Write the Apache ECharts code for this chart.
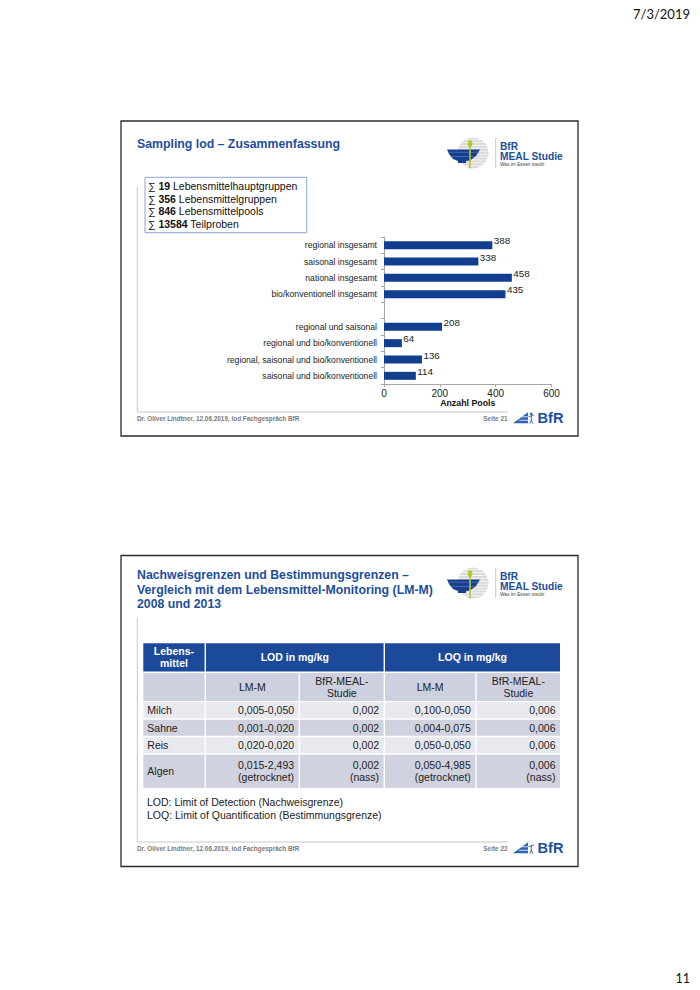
<!DOCTYPE html>
<html><head><meta charset="utf-8">
<script src="https://cdn.jsdelivr.net/npm/echarts@6/dist/echarts.min.js"></script>
<style>html,body{margin:0;padding:0;background:#fff}#c{width:700px;height:990px}</style>
</head><body><div id="c"></div>
<script>
// ---------- data ----------
const categories = ['regional insgesamt','saisonal insgesamt','national insgesamt','bio/konventionell insgesamt','','regional und saisonal','regional und bio/konventionell','regional, saisonal und bio/konventionell','saisonal und bio/konventionell'];
const poolCounts = [388,338,458,435,null,208,64,136,114];
const xTickMin = 0, xTickMax = 600, xTickStep = 200;
const xAxisName = 'Anzahl Pools';

const summaryNumbers = ['19','356','846','13584'];
const summaryLabels = ['Lebensmittelhauptgruppen','Lebensmittelgruppen','Lebensmittelpools','Teilproben'];

const slide1Title = ['Sampling lod – Zusammenfassung'];
const slide2Title = ['Nachweisgrenzen und Bestimmungsgrenzen –','Vergleich mit dem Lebensmittel-Monitoring (LM-M)','2008 und 2013'];
const footerText = 'Dr. Oliver Lindtner, 12.06.2019, lod Fachgespräch BfR';
const pageLabels = ['Seite 21','Seite 22'];
const printDate = '7/3/2019';
const printPage = '11';

const tableHeader = ['Lebens-\nmittel','LOD in mg/kg','LOQ in mg/kg'];
const tableSubHeader = ['','LM-M','BfR-MEAL-\nStudie','LM-M','BfR-MEAL-\nStudie'];
const foods = ['Milch','Sahne','Reis','Algen'];
const lodLMM = ['0,005-0,050','0,001-0,020','0,020-0,020','0,015-2,493\n(getrocknet)'];
const lodMEAL = ['0,002','0,002','0,002','0,002\n(nass)'];
const loqLMM = ['0,100-0,050','0,004-0,075','0,050-0,050','0,050-4,985\n(getrocknet)'];
const loqMEAL = ['0,006','0,006','0,006','0,006\n(nass)'];
const notes = ['LOD: Limit of Detection (Nachweisgrenze)','LOQ: Limit of Quantification (Bestimmungsgrenze)'];

// ---------- styles ----------
const FF = '"Liberation Sans", Arial, sans-serif';
const BLUE = '#1d4e9e';
const BAR = '#113e8f';

function T(x, y, text, font, fill, align, valign, extra) {
  const st = Object.assign({text: text, font: font, fill: fill || '#222',
    align: align || 'left', textAlign: align || 'left',
    verticalAlign: valign || 'middle', textVerticalAlign: valign || 'middle'}, extra || {});
  return {type: 'text', x: x, y: y, z: 10, style: st};
}
function R(x, y, w, h, style) { return {type: 'rect', shape: {x: x, y: y, width: w, height: h}, style: style, z: 5}; }
function L(x1, y1, x2, y2, stroke, lw) { return {type: 'line', shape: {x1: x1, y1: y1, x2: x2, y2: y2}, style: {stroke: stroke, lineWidth: lw || 1}, z: 6}; }

const G = [];

// print date and page number
G.push(T(690, 13.5, printDate, '13px Lato, sans-serif', '#111', 'right'));
G.push(T(690, 978, printPage, '12.5px Lato, sans-serif', '#111', 'right'));

// slide frames
G.push(R(121, 121, 457, 315, {fill: 'none', stroke: '#2a2a2a', lineWidth: 1.3}));
G.push(R(121, 555.5, 457, 311, {fill: 'none', stroke: '#2a2a2a', lineWidth: 1.3}));

// content guide lines
G.push(L(137.3, 187, 137.3, 412, '#c8c8c8', 1));
G.push(L(137.3, 412, 508, 412, '#c8c8c8', 1));
G.push(L(137.3, 618, 137.3, 842, '#c8c8c8', 1));
G.push(L(137.3, 842, 508, 842, '#c8c8c8', 1));

// titles
slide1Title.forEach((s, i) => G.push(T(137, 144.3 + i * 14.7, s, 'bold 12.3px ' + FF, BLUE)));
slide2Title.forEach((s, i) => G.push(T(137, 575 + i * 14.7, s, 'bold 12.3px ' + FF, BLUE)));

// BfR MEAL logo
function mealLogo(dy) {
  const cx = 473, cy = 153 + dy, r = 15.5;
  G.push({type: 'circle', shape: {cx: cx, cy: cy, r: r}, style: {fill: '#d9d9d9'}, z: 5});
  for (let k = -5; k <= 5; k++) {
    const yy = cy + k * 2.9 + 1.2;
    const d = Math.abs(yy - cy);
    if (d < r) {
      const hw = Math.sqrt(r * r - d * d);
      G.push(L(cx - hw, yy, cx + hw, yy, '#f4f4f4', 1.1));
    }
  }
  G.push({type: 'polygon', shape: {points: [[447, 149.5 + dy], [480, 149.5 + dy], [476, 156 + dy], [470, 160.5 + dy], [466, 161 + dy], [466, 163 + dy], [458, 163 + dy], [458, 161 + dy], [453, 159 + dy], [449, 154 + dy]]}, style: {fill: '#183f8c'}, z: 6});
  G.push(L(449, 152.3 + dy, 478.5, 152.3 + dy, '#3d6bb5', 1));
  G.push(L(452, 156.5 + dy, 475.5, 156.5 + dy, '#3d6bb5', 1));
  G.push(L(470, 146 + dy, 470, 168.5 + dy, '#b6c82a', 1.6));
  G.push({type: 'ellipse', shape: {cx: 470, cy: 143.5 + dy, rx: 2.4, ry: 3.6}, style: {fill: '#b6c82a'}, z: 7});
  G.push(L(495.7, 138 + dy, 495.7, 168 + dy, '#bdbdbd', 0.8));
  G.push(T(500, 146.7 + dy, 'BfR', 'bold 10.2px ' + FF, BLUE));
  G.push(T(500, 156.3 + dy, 'MEAL Studie', 'bold 10.2px ' + FF, BLUE));
  G.push(T(500, 164.6 + dy, 'Was im Essen steckt', '4.8px ' + FF, '#444'));
}
mealLogo(0);
mealLogo(430);

// footers
function footer(y, page) {
  G.push(T(137, y, footerText, 'bold 6.4px ' + FF, '#7a7a7a'));
  G.push(T(507.5, y, page, 'bold 6.4px ' + FF, '#7a7a7a', 'right'));
  G.push({type: 'polygon', shape: {points: [[513, y + 5], [528, y - 6], [528, y + 5]]}, style: {fill: '#2c63b3'}, z: 6});
  G.push(L(516, y - 1.5, 528, y - 1.5, '#ffffff', 0.8));
  G.push(L(519, y + 2, 528, y + 2, '#ffffff', 0.8));
  G.push({type: 'circle', shape: {cx: 531.3, cy: y - 4.5, r: 1.3}, style: {fill: '#2c63b3'}, z: 6});
  G.push(L(531.3, y - 3, 531.3, y + 1.5, '#2c63b3', 1));
  G.push(L(528.5, y - 1.5, 534.2, y - 3.5, '#2c63b3', 0.9));
  G.push(L(531.3, y + 1.5, 529.8, y + 5.5, '#2c63b3', 0.9));
  G.push(L(531.3, y + 1.5, 532.8, y + 5.5, '#2c63b3', 0.9));
  G.push(T(537.5, y, 'BfR', 'bold 14.6px ' + FF, '#1d4f9f'));
}
footer(418.3, pageLabels[0]);
footer(848.3, pageLabels[1]);

// summary box
G.push(R(145, 177.3, 161.7, 55.4, {fill: '#fff', stroke: '#8aa4d4', lineWidth: 1}));
summaryNumbers.forEach((n, i) => {
  G.push({type: 'text', x: 148, y: 186 + i * 12.7, z: 10, style: {
    text: '{n|∑ }{b|' + n + '}{n| ' + summaryLabels[i] + '}',
    align: 'left', textAlign: 'left', verticalAlign: 'middle', textVerticalAlign: 'middle',
    rich: {n: {font: '10.5px ' + FF, fill: '#111'}, b: {font: 'bold 10.5px ' + FF, fill: '#111'}}
  }});
});

// table
const colX = [143.3, 206, 300, 385, 476.7, 561.4];
const rowY = [643.3, 673, 702.3, 719.7, 737.2, 754.7, 789.5];
const gap = 1.4;
const fTab = '10.5px ' + FF, fTabB = 'bold 10.5px ' + FF;
const HEAD = '#1b4a9a', SUB = '#cdd0de', LIGHT = '#e8e9ef', DARK = '#d0d3df';
function cellRect(c0, c1, r, fill) {
  G.push(R(colX[c0], rowY[r], colX[c1] - colX[c0] - gap, rowY[r + 1] - rowY[r] - gap, {fill: fill}));
}
function cellMid(r) { return (rowY[r] + rowY[r + 1] - gap) / 2; }
// header row
cellRect(0, 1, 0, HEAD); cellRect(1, 3, 0, HEAD); cellRect(3, 5, 0, HEAD);
G.push(T((colX[0] + colX[1] - gap) / 2, cellMid(0), tableHeader[0], fTabB, '#fff', 'center', 'middle', {lineHeight: 12}));
G.push(T((colX[1] + colX[3] - gap) / 2, cellMid(0), tableHeader[1], fTabB, '#fff', 'center'));
G.push(T((colX[3] + colX[5] - gap) / 2, cellMid(0), tableHeader[2], fTabB, '#fff', 'center'));
// sub header
for (let c = 0; c < 5; c++) {
  cellRect(c, c + 1, 1, SUB);
  if (tableSubHeader[c]) G.push(T((colX[c] + colX[c + 1] - gap) / 2, cellMid(1), tableSubHeader[c], fTab, '#222', 'center', 'middle', {lineHeight: 12}));
}
// body rows
foods.forEach((f, i) => {
  const r = i + 2;
  const fill = i % 2 === 0 ? LIGHT : DARK;
  const vals = [lodLMM[i], lodMEAL[i], loqLMM[i], loqMEAL[i]];
  for (let c = 0; c < 5; c++) cellRect(c, c + 1, r, fill);
  G.push(T(colX[0] + 4, cellMid(r), f, fTab, '#222', 'left'));
  vals.forEach((v, j) => {
    G.push(T(colX[j + 2] - gap - 4.5, cellMid(r), v, fTab, '#222', 'right', 'middle', {lineHeight: 12}));
  });
});
// notes
notes.forEach((s, i) => G.push(T(147, 801.7 + i * 13.3, s, fTab, '#222')));

// ---------- chart ----------
const chart = echarts.init(document.getElementById('c'), null, {renderer: 'svg', width: 700, height: 990});
chart.setOption({
  animation: false,
  backgroundColor: '#fff',
  grid: {left: 384, top: 237, width: 167.5, height: 147, containLabel: false, outerBoundsMode: 'none'},
  xAxis: {
    type: 'value', min: xTickMin, max: xTickMax, interval: xTickStep,
    name: xAxisName, nameLocation: 'middle', nameGap: 14,
    nameTextStyle: {fontFamily: FF, fontSize: 8.8, fontWeight: 'bold', color: '#111'},
    axisLine: {show: true, lineStyle: {color: '#a6a6a6', width: 1}},
    axisTick: {show: true, length: 3, lineStyle: {color: '#a6a6a6'}},
    axisLabel: {fontFamily: FF, fontSize: 10, color: '#222', margin: 4},
    splitLine: {show: false}
  },
  yAxis: {
    type: 'category', data: categories, inverse: true,
    axisLine: {show: true, lineStyle: {color: '#a6a6a6', width: 1}},
    axisTick: {show: true, length: 3, lineStyle: {color: '#a6a6a6'}},
    axisLabel: {fontFamily: FF, fontSize: 8.6, color: '#222', margin: 7},
    splitLine: {show: false}
  },
  series: [{
    type: 'bar', data: poolCounts, barWidth: 8,
    itemStyle: {color: BAR},
    label: {show: true, position: 'right', distance: 1.5, offset: [0, -4.5],
      fontFamily: FF, fontSize: 9.8, color: '#222'}
  }],
  graphic: {elements: G}
});
</script>
</body></html>
